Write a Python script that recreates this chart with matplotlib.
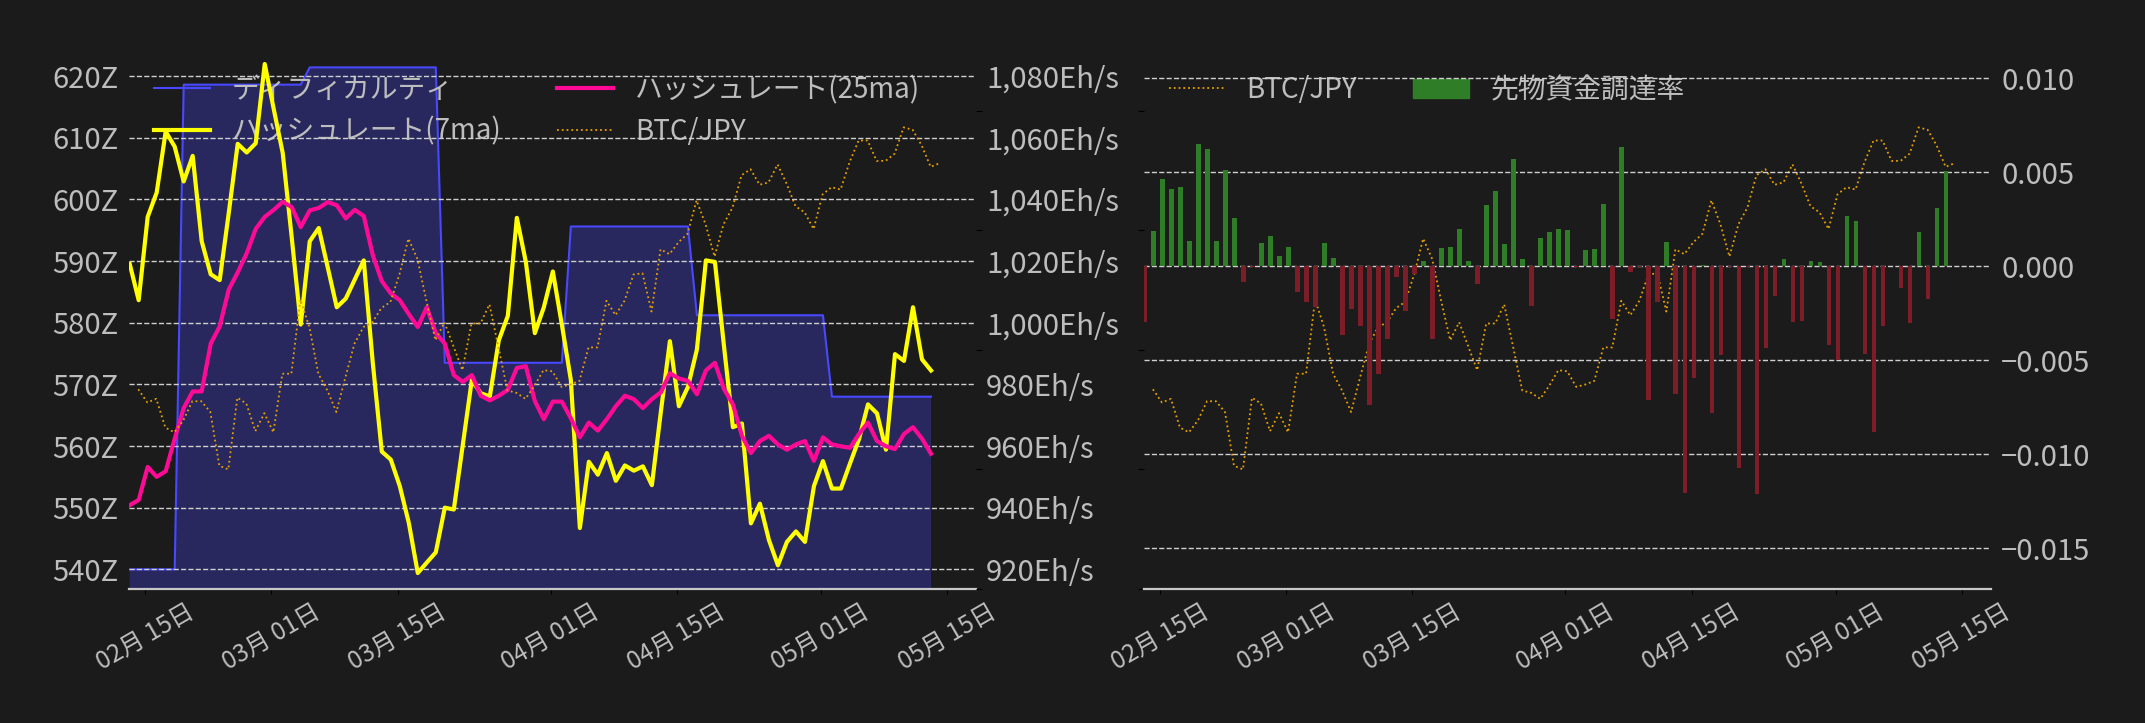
import matplotlib
matplotlib.use('Agg')
import matplotlib.pyplot as plt
import matplotlib.dates as mdates
import matplotlib.ticker as mticker
from matplotlib.patches import Patch
import pandas as pd

plt.rcParams['font.family'] = ['Noto Sans CJK JP', 'DejaVu Sans']

BG = '#1b1b1b'
TXT = '#bdbdbd'
GRID = '#cfcfcf'

# ---------------- data ----------------
start = pd.Timestamp('2025-02-13 06:00')
dates = pd.date_range(start, periods=90, freq='D')
btc_dates = dates + pd.Timedelta(hours=23)

difficulty = [
    540.0, 540.0, 540.0, 540.0, 540.0, 540.0,
    618.6, 618.6, 618.6, 618.6, 618.6, 618.6, 618.6, 618.6, 618.6, 618.6, 618.6, 618.6, 618.6, 618.6,
    621.4, 621.4, 621.4, 621.4, 621.4, 621.4, 621.4, 621.4, 621.4, 621.4, 621.4, 621.4, 621.4, 621.4, 621.4,
    573.5, 573.5, 573.5, 573.5, 573.5, 573.5, 573.5, 573.5, 573.5, 573.5, 573.5, 573.5, 573.5, 573.5,
    595.6, 595.6, 595.6, 595.6, 595.6, 595.6, 595.6, 595.6, 595.6, 595.6, 595.6, 595.6, 595.6, 595.6,
    581.2, 581.2, 581.2, 581.2, 581.2, 581.2, 581.2, 581.2, 581.2, 581.2, 581.2, 581.2, 581.2, 581.2, 581.2,
    568.0, 568.0, 568.0, 568.0, 568.0, 568.0, 568.0, 568.0, 568.0, 568.0, 568.0, 568.0,
]

hashrate_7ma = [
    1019.1, 1007.3, 1034.3, 1042.2, 1062.0, 1057.1, 1045.8, 1054.1, 1026.4, 1015.7,
    1013.8, 1035.5, 1058.0, 1055.2, 1058.2, 1083.9, 1069.3, 1055.0, 1027.6, 999.4,
    1026.4, 1030.7, 1017.9, 1005.0, 1007.8, 1014.0, 1020.2, 987.0, 958.2, 955.6,
    947.0, 935.1, 918.8, 922.2, 925.5, 940.0, 939.4, 960.4, 981.4, 977.1,
    976.1, 994.3, 1002.2, 1034.0, 1019.7, 996.6, 1005.0, 1016.6, 999.4, 981.4,
    933.4, 954.9, 950.7, 957.7, 948.7, 953.7, 952.0, 953.4, 947.3, 971.2,
    994.0, 972.9, 979.1, 991.3, 1020.2, 1019.7, 992.6, 966.1, 967.3, 934.9,
    941.3, 929.5, 921.3, 928.9, 932.3, 928.9, 947.0, 955.1, 946.2, 946.2,
    954.3, 962.2, 973.5, 970.6, 958.8, 989.8, 987.6, 1005.0, 988.1, 984.5,
]

hashrate_25ma = [
    940.8, 942.5, 953.2, 950.0, 951.8, 962.4, 972.3, 977.7, 977.7, 993.2,
    998.8, 1010.7, 1016.3, 1022.5, 1030.4, 1034.3, 1036.6, 1039.2, 1037.5, 1031.0,
    1036.4, 1037.2, 1039.1, 1038.1, 1033.8, 1036.6, 1034.6, 1021.9, 1013.5, 1009.5,
    1007.3, 1002.8, 998.6, 1005.0, 996.6, 993.2, 983.0, 980.8, 983.0, 976.3,
    974.8, 976.3, 978.2, 985.3, 985.9, 974.6, 968.7, 974.4, 974.4, 969.0,
    962.8, 967.6, 965.0, 968.7, 972.9, 976.3, 975.2, 972.3, 975.2, 977.4,
    983.6, 981.9, 981.1, 976.8, 984.5, 987.0, 978.5, 973.5, 963.3, 957.7,
    961.6, 963.3, 960.5, 958.8, 960.5, 961.6, 955.2, 962.8, 960.5, 959.9,
    959.4, 963.9, 967.6, 961.6, 959.9, 959.0, 963.9, 966.1, 962.4, 957.5,
]

# BTC/JPY in 10,000 JPY units
btc_jpy = [
    1267, 1256, 1259, 1235, 1231, 1241, 1257, 1257, 1248, 1203,
    1200, 1260, 1255, 1232, 1247, 1231, 1280, 1280, 1342, 1319,
    1280, 1266, 1248, 1277, 1305, 1319, 1323, 1335, 1340, 1363,
    1393, 1376, 1341, 1308, 1323, 1303, 1283, 1322, 1322, 1338,
    1302, 1266, 1264, 1259, 1270, 1283, 1282, 1269, 1271, 1274,
    1302, 1302, 1341, 1329, 1341, 1363, 1364, 1332, 1384, 1380,
    1390, 1397, 1425, 1405, 1378, 1405, 1419, 1446, 1451, 1438,
    1440, 1455, 1439, 1420, 1415, 1401, 1430, 1436, 1434, 1457,
    1475, 1475, 1458, 1458, 1464, 1486, 1484, 1471, 1453, 1456,
]

funding_rate = [
    -0.00294, 0.00188, 0.00465, 0.00411, 0.00422, 0.00135, 0.00651, 0.00624, 0.00135, 0.00512,
    0.00257, -0.00082, -0.00005, 0.00124, 0.00161, 0.00055, 0.00103, -0.00135, -0.00188, -0.00215,
    0.00124, 0.00044, -0.00363, -0.00225, -0.00316, -0.00736, -0.00571, -0.00385, -0.00055, -0.00236,
    -0.00039, 0.00028, -0.00385, 0.00098, 0.00103, 0.00199, 0.00028, -0.00092, 0.00326, 0.00401,
    0.00119, 0.00571, 0.00039, -0.00209, 0.00151, 0.00183, 0.00199, 0.00193, -0.00005, 0.00087,
    0.00092, 0.00332, -0.00278, 0.00635, -0.00028, -0.00005, -0.00709, -0.00188, 0.00129, -0.00677,
    -0.01204, -0.00592, 0.00005, -0.00778, -0.00470, -0.00005, -0.01071, -0.00005, -0.01209, -0.00433,
    -0.00156, 0.00039, -0.00294, -0.00289, 0.00028, 0.00023, -0.00417, -0.00498, 0.00268, 0.00241,
    -0.00465, -0.00879, -0.00316, 0.0, -0.00113, -0.00300, 0.00183, -0.00172, 0.00310, 0.00507,
]

labels_left = ['ディフィカルティ', 'ハッシュレート(7ma)', 'ハッシュレート(25ma)', 'BTC/JPY']
labels_right = ['BTC/JPY', '先物資金調達率']

# ---------------- figure ----------------
W, H = 2145, 723
fig = plt.figure(figsize=(W / 100, H / 100), dpi=100, facecolor=BG)
bottom = (H - 589) / H
height = (589 - 50) / H
ax1 = fig.add_axes([129.3 / W, bottom, 847.1 / W, height])
ax4 = fig.add_axes([1143.9 / W, bottom, 847.5 / W, height])

xlim = (start - pd.Timedelta(hours=1), start + pd.Timedelta(days=94, hours=1))

def style_base(ax):
    ax.set_facecolor(BG)
    for s in ['top', 'left', 'right']:
        ax.spines[s].set_visible(False)
    ax.spines['bottom'].set_color('#c8c8c8')
    ax.spines['bottom'].set_linewidth(1.6)
    ax.set_xlim(*xlim)
    ax.xaxis.set_major_locator(mdates.DayLocator(bymonthday=[1, 15]))
    ax.xaxis.set_major_formatter(mdates.DateFormatter('%m月 %d日'))
    ax.tick_params(axis='x', colors='black', labelcolor=TXT, labelsize=17.5, rotation=30)
    for lbl in ax.get_xticklabels():
        lbl.set_ha('center')

def hide_spines(ax):
    for s in ax.spines.values():
        s.set_visible(False)

# ---------------- left panel ----------------
style_base(ax1)
ax2 = ax1.twinx()
ax3 = ax1.twinx()
hide_spines(ax2)
hide_spines(ax3)

diff_line, = ax1.plot(dates, difficulty, color='#4848ff', lw=1.5)
ax1.fill_between(dates, difficulty, 0, color='#4848ff', alpha=0.3, lw=0)
ax1.set_ylim(536.81, 624.22)
ax1.yaxis.set_major_locator(mticker.MultipleLocator(10))
ax1.yaxis.set_major_formatter(mticker.FuncFormatter(lambda v, p: f'{v:.0f}Z'))
ax1.tick_params(axis='y', colors=BG, labelcolor=TXT, labelsize=21, pad=4.5)

h7, = ax2.plot(dates, hashrate_7ma, color='#ffff00', lw=3)
h25, = ax2.plot(dates, hashrate_25ma, color='#ff0a96', lw=3)
ax2.set_ylim(913.62, 1088.44)
ax2.yaxis.set_major_locator(mticker.MultipleLocator(20))
ax2.yaxis.set_major_formatter(mticker.FuncFormatter(lambda v, p: f'{v:,.0f}Eh/s'))
ax2.tick_params(axis='y', colors=BG, labelcolor=TXT, labelsize=21)
ax2.grid(True, axis='y', color=GRID, ls='--', lw=1.0)
ax2.set_axisbelow(True)

btc1, = ax3.plot(btc_dates, btc_jpy, color='#e8a000', lw=1.3, ls=':')
ax3.set_ylim(1100, 1550.7)
ax3.yaxis.set_major_locator(mticker.MultipleLocator(100))
ax3.tick_params(axis='y', colors='black', labelright=False, length=4.5)

ax1.legend([diff_line, h7, h25, btc1], labels_left, loc='upper left', ncol=2,
           frameon=False, fontsize=20, labelcolor=TXT, labelspacing=0.42)

# ---------------- right panel ----------------
style_base(ax4)
ax5 = ax4.twinx()
hide_spines(ax5)

btc2, = ax4.plot(btc_dates, btc_jpy, color='#e8a000', lw=1.3, ls=':')
ax4.set_ylim(1100, 1550.7)
ax4.yaxis.set_major_locator(mticker.MultipleLocator(100))
ax4.tick_params(axis='y', colors='black', labelleft=False, length=4.5)

bar_colors = ['#2f7d27' if v >= 0 else '#7c1d27' for v in funding_rate]
ax5.bar(dates, funding_rate, width=0.5, color=bar_colors)
ax5.set_ylim(-0.017165, 0.011505)
ax5.yaxis.set_major_locator(mticker.MultipleLocator(0.005))
ax5.yaxis.set_major_formatter(mticker.FuncFormatter(lambda v, p: f'{v:.3f}'.replace('-', '\u2212')))
ax5.tick_params(axis='y', colors=BG, labelcolor=TXT, labelsize=21)
ax5.grid(True, axis='y', color=GRID, ls='--', lw=1.0)
ax5.set_axisbelow(True)

ax4.legend([btc2, Patch(color='#2f7d27')], labels_right, loc='upper left', ncol=2,
           frameon=False, fontsize=20, labelcolor=TXT)

fig.savefig('out.png', dpi=100, facecolor=BG)
